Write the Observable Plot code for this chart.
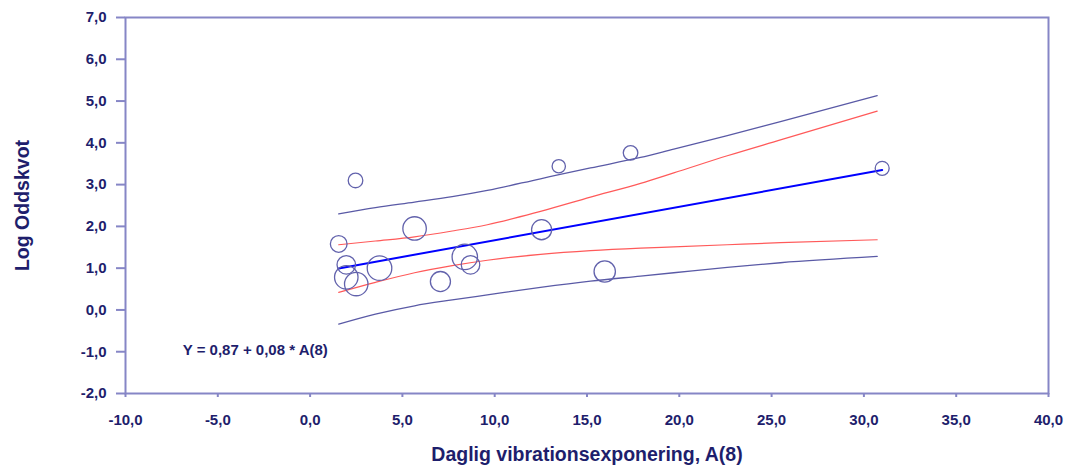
<!DOCTYPE html>
<html>
<head>
<meta charset="utf-8">
<script src="https://cdn.jsdelivr.net/npm/d3@7"></script>
<script src="https://cdn.jsdelivr.net/npm/@observablehq/plot@0.6"></script>
<style>
  html, body { margin: 0; padding: 0; background: #ffffff; }
</style>
</head>
<body>
<div id="chart"></div>
<script>
// Studies: daily vibration exposure A(8), log odds ratio and relative study weight (%)
const exposure = [2.46, 1.55, 5.66, 1.96, 1.96, 2.50, 3.76, 7.06, 8.38, 8.69, 12.54, 13.47, 15.96, 17.36, 30.99];
const logOdds  = [3.10, 1.58, 1.95, 1.08, 0.78, 0.62, 1.00, 0.68, 1.27, 1.08, 1.92, 3.44, 0.92, 3.76, 3.39];
const weight   = [3.6, 4.7, 9.3, 5.8, 9.3, 9.3, 10.2, 6.8, 10.9, 5.8, 6.8, 3.0, 7.7, 3.6, 3.3];

// Meta-regression: Y = 0,87 + 0,08 * A(8)
const intercept = 0.87;
const slope = 0.08;

// Confidence band (inner, red) and prediction band (outer, blue) of the regression
const bandX   = [1.55, 3.54, 5.66, 7.70, 9.60, 12.48, 15.19, 17.90, 19.70, 22.60, 25.48, 30.72];
const ciUpper = [1.56, 1.65, 1.75, 1.89, 2.04, 2.36, 2.70, 3.03, 3.28, 3.69, 4.07, 4.76];
const ciLower = [0.42, 0.66, 0.89, 1.06, 1.19, 1.33, 1.42, 1.48, 1.51, 1.56, 1.61, 1.68];
const piUpper = [2.30, 2.45, 2.58, 2.71, 2.86, 3.14, 3.40, 3.65, 3.85, 4.17, 4.51, 5.13];
const piLower = [-0.34, -0.10, 0.10, 0.24, 0.36, 0.54, 0.69, 0.81, 0.89, 1.02, 1.13, 1.28];

// Axis ticks and texts
const xTicks = [-10, -5, 0, 5, 10, 15, 20, 25, 30, 35, 40];
const yTicks = [-2, -1, 0, 1, 2, 3, 4, 5, 6, 7];
const xTitle = "Daglig vibrationsexponering, A(8)";
const yTitle = "Log Oddskvot";
const equation = [{x: -6.9, y: -0.96, text: "Y = 0,87 + 0,08 * A(8)"}];

// Colours
const AXIS = "#8686c6";
const TEXT = "#1e1e6c";
const CI = "#ff5a5a";
const PI = "#5a5aa6";
const FIT = "#0000ff";
const RING = "#6262ac";

const fmt = d => d.toFixed(1).replace(".", ",");
const studies = exposure.map((x, i) => ({x, y: logOdds[i], w: weight[i]}));
const fit = d3.extent(exposure).map(x => ({x, y: intercept + slope * x}));
const band = ys => bandX.map((x, i) => ({x, y: ys[i]}));

const chart = Plot.plot({
  width: 1068,
  height: 472,
  marginLeft: 125,
  marginRight: 20,
  marginTop: 17,
  marginBottom: 79,
  style: {fontFamily: "'Liberation Sans', Arial, sans-serif", background: "#ffffff"},
  x: {domain: [-10, 40]},
  y: {domain: [-2, 7]},
  r: {type: "sqrt", domain: [0, 10.9], range: [0, 12.7]},
  marks: [
    Plot.line(band(piUpper), {x: "x", y: "y", stroke: PI, strokeWidth: 1.3, curve: "monotone-x"}),
    Plot.line(band(piLower), {x: "x", y: "y", stroke: PI, strokeWidth: 1.3, curve: "monotone-x"}),
    Plot.line(band(ciUpper), {x: "x", y: "y", stroke: CI, strokeWidth: 1.2, curve: "monotone-x"}),
    Plot.line(band(ciLower), {x: "x", y: "y", stroke: CI, strokeWidth: 1.2, curve: "monotone-x"}),
    Plot.line(fit, {x: "x", y: "y", stroke: FIT, strokeWidth: 2}),
    Plot.dot(studies, {x: "x", y: "y", r: "w", stroke: RING, strokeWidth: 1.3, fill: "none"}),
    Plot.text(equation, {x: "x", y: "y", text: "text", textAnchor: "start", fill: TEXT, fontSize: 15, fontWeight: "bold"}),
    Plot.frame({stroke: AXIS, strokeWidth: 2}),
    Plot.axisY(yTicks, {
      tickSize: 9, tickPadding: 10, tickFormat: fmt, label: null,
      stroke: AXIS, strokeWidth: 2, fill: TEXT, fontSize: 15, fontWeight: "bold"
    }),
    Plot.axisX(xTicks, {
      tickSize: 4, tickPadding: 17, tickFormat: fmt, label: null,
      stroke: AXIS, strokeWidth: 2, fill: TEXT, fontSize: 15, fontWeight: "bold"
    }),
    Plot.text([yTitle], {
      frameAnchor: "left", dx: -103, rotate: -90, textAnchor: "middle",
      fill: TEXT, fontSize: 19.5, fontWeight: "bold"
    }),
    Plot.text([xTitle], {
      frameAnchor: "bottom", dy: 67, textAnchor: "middle",
      fill: TEXT, fontSize: 19.5, fontWeight: "bold"
    })
  ]
});

document.getElementById("chart").append(chart);
</script>
</body>
</html>
